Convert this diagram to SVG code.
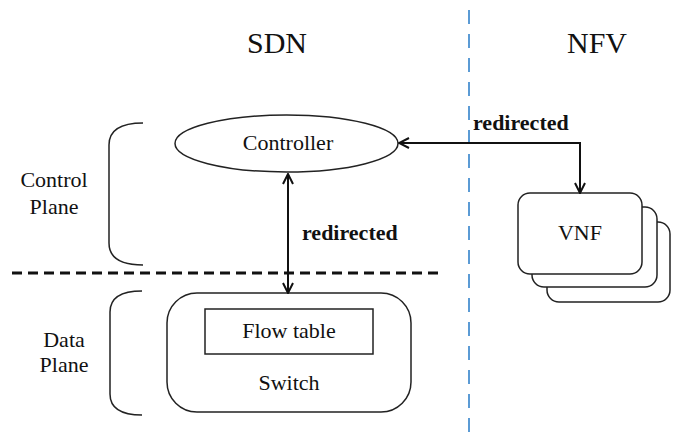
<svg xmlns="http://www.w3.org/2000/svg" width="678" height="433" viewBox="0 0 678 433" font-family="'Liberation Serif', serif">
  <style>
    .t { font-size: 22px; fill: #111; text-anchor: middle; }
    .h { font-size: 30px; }
    .b { font-weight: bold; text-anchor: start; }
    .shape { fill: #fff; stroke: #222; stroke-width: 1.5; }
    .brace { fill: none; stroke: #222; stroke-width: 1.5; }
    .link { fill: none; stroke: #111; stroke-width: 2; }
  </style>
  <defs>
    <marker id="arrow" viewBox="0 0 12 12" refX="11" refY="6" markerWidth="12" markerHeight="12" markerUnits="userSpaceOnUse" orient="auto-start-reverse">
      <path d="M1,1 L11,6 L1,11" fill="none" stroke="#111" stroke-width="2"/>
    </marker>
  </defs>

  <rect width="678" height="433" fill="#fff"/>

  <!-- column headings -->
  <text class="t h" x="277" y="53">SDN</text>
  <text class="t h" x="597" y="53">NFV</text>

  <!-- SDN / NFV divider -->
  <line x1="469" y1="10" x2="469" y2="433" stroke="#5b9bd5" stroke-width="2" stroke-dasharray="14 10"/>

  <!-- control / data plane divider -->
  <line x1="12" y1="273" x2="440" y2="273" stroke="#111" stroke-width="3" stroke-dasharray="10 6"/>

  <!-- plane labels with braces -->
  <g id="control-plane">
    <path class="brace" d="M143,123 C120,123 109,130 109,145 L109,243 C109,258 120,265 143,265"/>
    <text class="t" x="54" y="187">Control</text>
    <text class="t" x="54" y="214">Plane</text>
  </g>
  <g id="data-plane">
    <path class="brace" d="M142,291 C120,291 110,298 110,312 L110,394 C110,408 120,415 142,415"/>
    <text class="t" x="64" y="347">Data</text>
    <text class="t" x="64" y="372">Plane</text>
  </g>

  <g id="controller">
    <ellipse class="shape" cx="286.5" cy="143.5" rx="111.5" ry="28.5"/>
    <text class="t" x="288" y="150">Controller</text>
  </g>

  <g id="switch">
    <rect class="shape" x="167" y="293" width="244" height="119" rx="30"/>
    <rect class="shape" x="205" y="309" width="168" height="45"/>
    <text class="t" x="289" y="338">Flow table</text>
    <text class="t" x="289" y="390">Switch</text>
  </g>

  <g id="vnf">
    <rect class="shape" x="547" y="222" width="123" height="80" rx="12"/>
    <rect class="shape" x="532" y="207" width="125" height="80" rx="12"/>
    <rect class="shape" x="518" y="193" width="124" height="81" rx="12"/>
    <text class="t" x="580" y="240">VNF</text>
  </g>

  <g id="connectors">
    <line class="link" x1="288" y1="174" x2="288" y2="293" marker-start="url(#arrow)" marker-end="url(#arrow)"/>
    <text class="t b" x="302" y="240">redirected</text>
    <polyline class="link" points="399,143 580,143 580,193" marker-start="url(#arrow)" marker-end="url(#arrow)"/>
    <text class="t b" x="473" y="130">redirected</text>
  </g>
</svg>
